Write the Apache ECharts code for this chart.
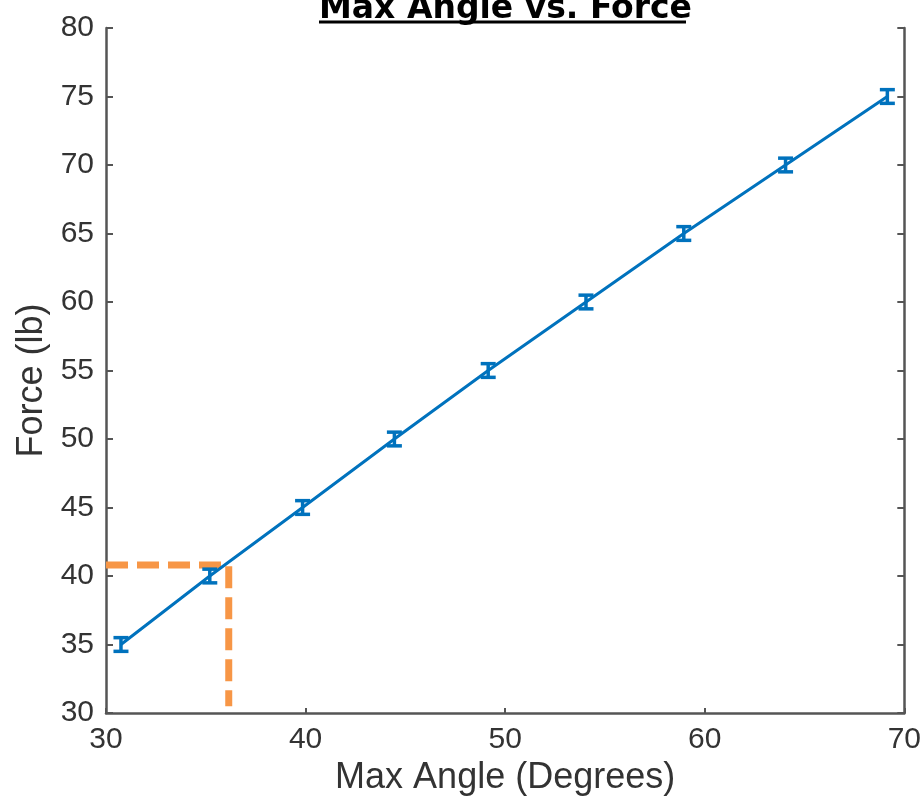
<!DOCTYPE html>
<html>
<head>
<meta charset="utf-8">
<script src="https://cdn.jsdelivr.net/npm/echarts@6/dist/echarts.min.js"></script>
<style>
  html, body { margin: 0; padding: 0; background: #fff; }
  #chart { width: 924px; height: 801px; }
</style>
</head>
<body>
<div id="chart"></div>
<script>
// values
const angles = [30.75, 35.2, 39.85, 44.45, 49.15, 54.05, 58.95, 64.05, 69.15];
const forces = [35, 40, 45, 50, 55, 60, 65, 70, 75];
const errHalf = [0.5, 0.5, 0.5, 0.5, 0.5, 0.5, 0.5, 0.5, 0.5];
const guideX = [30, 36.15, 36.15];
const guideY = [40.8, 40.8, 30.5];

const axisColor = '#555';
const textColor = '#333';
const font = 'Liberation Sans, Arial, Helvetica, sans-serif';

const chart = echarts.init(document.getElementById('chart'));

const lineData = angles.map((a, i) => [a, forces[i]]);
const errData = angles.map((a, i) => [a, forces[i] - errHalf[i], forces[i] + errHalf[i]]);
const guideData = guideX.map((x, i) => [x, guideY[i]]);

chart.setOption({
    animation: false,
    grid: { left: 106, right: 19, top: 28, bottom: 88 },
    graphic: [
        {
            type: 'text',
            left: 319,
            top: -7,
            style: {
                text: 'Max Angle vs. Force',
                font: 'bold 33px "DejaVu Sans", sans-serif',
                fill: '#000'
            }
        },
        {
            type: 'line',
            shape: { x1: 319, y1: 22, x2: 686, y2: 22 },
            style: { stroke: '#000', lineWidth: 3 }
        }
    ],
    xAxis: [{
        type: 'value',
        min: 30, max: 70, interval: 10,
        name: 'Max Angle (Degrees)',
        nameLocation: 'middle',
        nameGap: 44,
        nameTextStyle: { color: textColor, fontSize: 36, fontFamily: font },
        axisLine: { lineStyle: { color: axisColor, width: 2.5 } },
        axisTick: { inside: true, length: 5, lineStyle: { color: axisColor, width: 2 } },
        axisLabel: { color: textColor, fontSize: 30, fontFamily: font, margin: 12 },
        splitLine: { show: false }
    }],
    yAxis: [{
        type: 'value',
        min: 30, max: 80, interval: 5,
        name: 'Force (lb)',
        nameLocation: 'middle',
        nameGap: 54,
        nameTextStyle: { color: textColor, fontSize: 36, fontFamily: font, padding: [0, 20, 0, 0] },
        axisLine: { show: true, lineStyle: { color: axisColor, width: 2.5 } },
        axisTick: { show: true, inside: true, length: 7, lineStyle: { color: axisColor, width: 2 } },
        axisLabel: { color: textColor, fontSize: 30, fontFamily: font, margin: 12 },
        splitLine: { show: false }
    }, {
        type: 'value',
        position: 'right',
        min: 30, max: 80, interval: 5,
        axisLine: { show: true, lineStyle: { color: axisColor, width: 2.5 } },
        axisTick: { show: true, inside: true, length: 7, lineStyle: { color: axisColor, width: 2 } },
        axisLabel: { show: false },
        splitLine: { show: false }
    }],
    series: [
        {
            type: 'line',
            data: guideData,
            symbol: 'none',
            lineStyle: { color: '#f79646', width: 7, type: [22, 9] },
            z: 1
        },
        {
            type: 'line',
            data: lineData,
            symbol: 'none',
            lineStyle: { color: '#0072bd', width: 3 },
            z: 3
        },
        {
            type: 'custom',
            data: errData,
            z: 4,
            renderItem: function (params, api) {
                const x = api.value(0);
                const lo = api.coord([x, api.value(1)]);
                const hi = api.coord([x, api.value(2)]);
                const hw = 7.5;
                const style = { stroke: '#0072bd', lineWidth: 3.5 };
                return {
                    type: 'group',
                    children: [
                        { type: 'line', shape: { x1: lo[0], y1: lo[1], x2: hi[0], y2: hi[1] }, style: style },
                        { type: 'line', shape: { x1: lo[0] - hw, y1: lo[1], x2: lo[0] + hw, y2: lo[1] }, style: style },
                        { type: 'line', shape: { x1: hi[0] - hw, y1: hi[1], x2: hi[0] + hw, y2: hi[1] }, style: style }
                    ]
                };
            }
        }
    ]
});
</script>
</body>
</html>
